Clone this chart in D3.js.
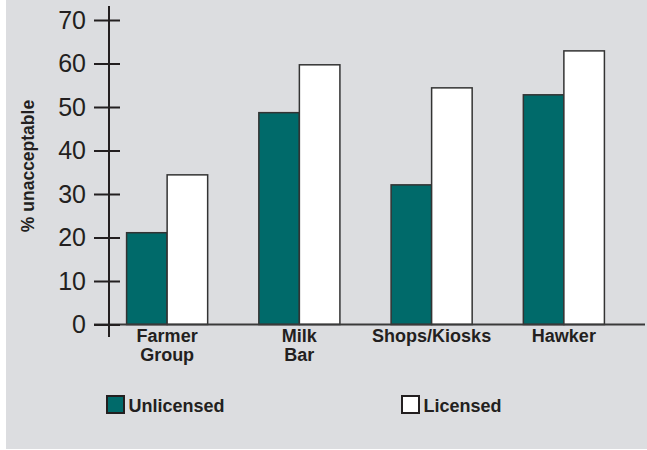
<!DOCTYPE html>
<html>
<head>
<meta charset="utf-8">
<script src="https://cdn.jsdelivr.net/npm/d3@7"></script>
<style>
  html, body { margin: 0; padding: 0; background: #fff; }
  svg { display: block; font-family: "Liberation Sans", Arial, sans-serif; }
</style>
</head>
<body>
<div id="chart"></div>
<script>
// values
const categories = [["Farmer", "Group"], ["Milk", "Bar"], ["Shops/Kiosks"], ["Hawker"]];
const seriesNames = ["Unlicensed", "Licensed"];
const unlicensed = [21.1, 48.7, 32.1, 52.8];
const licensed = [34.4, 59.7, 54.4, 62.9];
const yTicks = [0, 10, 20, 30, 40, 50, 60, 70];

const seriesColors = ["#006a6a", "#ffffff"];
const textColor = "#231f20";

const width = 647, height = 450;

const svg = d3.select("#chart")
    .append("svg")
    .attr("width", width)
    .attr("height", height);

// grey panel
svg.append("rect")
    .attr("x", 6)
    .attr("y", 0)
    .attr("width", width - 6)
    .attr("height", 449)
    .attr("fill", "#dcdde0");

const rows = categories.map((c, i) => ({ key: c.join(" "), label: c, values: [unlicensed[i], licensed[i]] }));

// scales
const x0 = d3.scaleBand()
    .domain(rows.map(d => d.key))
    .range([101, 630])
    .paddingInner(0.387)
    .paddingOuter(0.1935);

const x1 = d3.scaleBand()
    .domain(seriesNames)
    .range([0, x0.bandwidth()]);

const y = d3.scaleLinear()
    .domain([0, 70])
    .range([324.5, 20]);

const axisX = 109;

// bars
const groups = svg.selectAll(".group")
    .data(rows)
    .enter()
    .append("g")
    .attr("class", "group")
    .attr("transform", d => `translate(${x0(d.key)},0)`);

groups.selectAll("rect")
    .data(d => d.values.map((v, i) => ({ name: seriesNames[i], value: v, i })))
    .enter()
    .append("rect")
    .attr("x", d => x1(d.name))
    .attr("width", x1.bandwidth())
    .attr("y", d => y(d.value))
    .attr("height", d => y(0) - y(d.value))
    .attr("fill", d => seriesColors[d.i])
    .attr("stroke", "#333")
    .attr("stroke-width", 1.5);

// x baseline
svg.append("line")
    .attr("x1", 94)
    .attr("x2", 645)
    .attr("y1", y(0))
    .attr("y2", y(0))
    .attr("stroke", "#3a3a3a")
    .attr("stroke-width", 2);

// category labels
const catText = svg.selectAll(".cat")
    .data(rows)
    .enter()
    .append("text")
    .attr("class", "cat")
    .attr("text-anchor", "middle")
    .attr("font-size", 18)
    .attr("font-weight", "bold")
    .attr("fill", textColor);

catText.selectAll("tspan")
    .data(d => d.label.map(l => ({ l, cx: x0(d.key) + x0.bandwidth() / 2 })))
    .enter()
    .append("tspan")
    .attr("x", d => d.cx)
    .attr("y", (d, i) => 341.5 + i * 19)
    .text(d => d.l);

// y axis
const yAxis = svg.append("g")
    .attr("transform", `translate(${axisX},0)`)
    .call(d3.axisLeft(y).tickValues(yTicks).tickSize(0).tickPadding(23));

yAxis.select(".domain").remove();
yAxis.selectAll(".tick line")
    .attr("x1", -15)
    .attr("x2", 11)
    .attr("stroke", "#231f20")
    .attr("stroke-width", 2);
yAxis.selectAll(".tick text")
    .attr("font-size", 25)
    .attr("font-family", "\"Liberation Sans\", Arial, sans-serif")
    .attr("fill", textColor);

svg.append("line")
    .attr("x1", axisX)
    .attr("x2", axisX)
    .attr("y1", 6)
    .attr("y2", 337)
    .attr("stroke", "#231f20")
    .attr("stroke-width", 2);

// y axis title
svg.append("text")
    .attr("transform", "translate(34,166) rotate(-90)")
    .attr("text-anchor", "middle")
    .attr("font-size", 17.5)
    .attr("font-weight", "bold")
    .attr("fill", textColor)
    .text("% unacceptable");

// legend
const legendX = [107, 402];
const legend = svg.selectAll(".legend")
    .data(seriesNames)
    .enter()
    .append("g")
    .attr("class", "legend")
    .attr("transform", (d, i) => `translate(${legendX[i]},396)`);

legend.append("rect")
    .attr("x", 0)
    .attr("y", 0)
    .attr("width", 17)
    .attr("height", 17)
    .attr("fill", (d, i) => seriesColors[i])
    .attr("stroke", "#231f20")
    .attr("stroke-width", 2);

legend.append("text")
    .attr("x", 21.5)
    .attr("y", 16)
    .attr("font-size", 18)
    .attr("font-weight", "bold")
    .attr("fill", textColor)
    .text(d => d);
</script>
</body>
</html>
